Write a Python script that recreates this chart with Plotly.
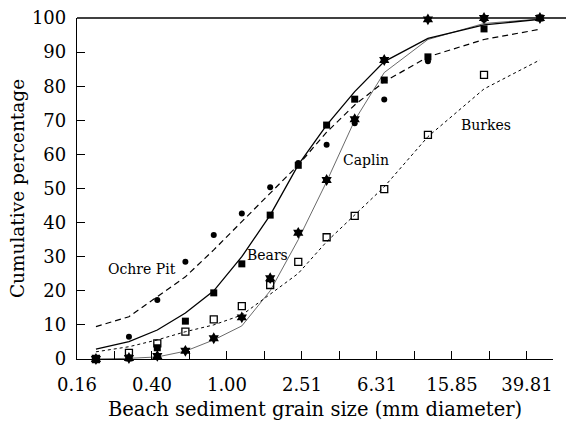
import plotly.graph_objects as go

# grain sizes (mm) of sieve classes
sizes = [0.2, 0.3, 0.425, 0.6, 0.85, 1.2, 1.7, 2.4, 3.4, 4.8, 6.9, 11.8, 23.5, 46.7]

# observed cumulative percentages
ochre_obs = [0, 6.5, 17.3, 28.5, 36.4, 42.7, 50.4, 57.5, 62.8, 69.1, 76.1, 87.3, 99.5, 100]
bears_obs = [0, 0.3, 3.3, 11.1, 19.4, 27.9, 42.2, 56.8, 68.6, 76.2, 81.8, 88.6, 96.8, 100]
caplin_obs = [0, 0.3, 0.9, 2.4, 6.1, 12.2, 23.7, 37.0, 52.5, 70.3, 87.7, 99.6, 100, 100]
burkes_obs = [0, 1.8, 4.6, 8.0, 11.6, 15.5, 21.7, 28.5, 35.7, 42.0, 49.8, 65.7, 83.3, None]

# fitted curves
ochre_fit = [9.5, 12.4, 18.3, 24.1, 32.0, 40.3, 48.6, 56.9, 66.5, 74.5, 81.3, 88.6, 93.7, 96.7]
bears_fit = [2.9, 5.1, 8.5, 13.5, 20.0, 30.0, 42.2, 56.9, 68.6, 78.4, 87.2, 94.0, 98.0, 99.6]
caplin_fit = [0, 0.2, 0.6, 2.3, 5.6, 9.7, 20.0, 35.0, 52.0, 70.0, 84.0, 93.7, 98.4, 99.7]
burkes_fit = [2.1, 3.6, 5.6, 8.0, 10.0, 12.9, 19.0, 25.1, 34.4, 42.2, 50.5, 65.2, 79.2, 87.7]

# axis ticks
x_tickvals = [0.1585, 0.2512, 0.3981, 0.631, 1.0, 1.585, 2.512, 3.981, 6.31, 10.0, 15.85, 25.12, 39.81]
x_ticktext = ["0.16", "", "0.40", "", "1.00", "", "2.51", "", "6.31", "", "15.85", "", "39.81"]
y_tickvals = [0, 10, 20, 30, 40, 50, 60, 70, 80, 90, 100]

# curve labels: (text, log10 x, y)
labels = [("Ochre Pit", -0.453, 26.4), ("Bears", 0.216, 30.5),
          ("Caplin", 0.741, 58.4), ("Burkes", 1.384, 68.6)]

FONT = "DejaVu Serif"
fig = go.Figure()

fig.add_trace(go.Scatter(x=sizes, y=burkes_fit, mode="lines",
                         line=dict(color="black", width=1, dash="dot")))
fig.add_trace(go.Scatter(x=sizes, y=caplin_fit, mode="lines",
                         line=dict(color="#444444", width=0.8)))
fig.add_trace(go.Scatter(x=sizes, y=ochre_fit, mode="lines",
                         line=dict(color="black", width=1.2, dash="6px,4px")))
fig.add_trace(go.Scatter(x=sizes, y=bears_fit, mode="lines",
                         line=dict(color="black", width=1.3)))

fig.add_trace(go.Scatter(x=sizes, y=burkes_obs, mode="markers", cliponaxis=False,
                         marker=dict(symbol="square-open", size=7, color="black",
                                     line=dict(width=1.3, color="black"))))
fig.add_trace(go.Scatter(x=sizes, y=ochre_obs, mode="markers", cliponaxis=False,
                         marker=dict(symbol="circle", size=6, color="black")))
fig.add_trace(go.Scatter(x=sizes, y=bears_obs, mode="markers", cliponaxis=False,
                         marker=dict(symbol="square", size=7, color="black")))
fig.add_trace(go.Scatter(x=sizes, y=caplin_obs, mode="markers", cliponaxis=False,
                         marker=dict(symbol="hexagram", size=9, color="black")))

for text, lx, ly in labels:
    fig.add_annotation(x=lx, y=ly, text=text, showarrow=False,
                       font=dict(family=FONT, size=14, color="black"))

fig.add_shape(type="line", xref="paper", yref="paper", x0=0, x1=1.03, y0=1, y1=1,
              line=dict(color="black", width=1.3))

fig.update_layout(
    width=566, height=421,
    margin=dict(l=77, r=13, t=18, b=62),
    paper_bgcolor="white", plot_bgcolor="white",
    showlegend=False,
    font=dict(family=FONT, color="black"),
    xaxis=dict(type="log", range=[-0.8, 1.739], tickvals=x_tickvals, ticktext=x_ticktext,
               ticks="inside", ticklen=8, tickcolor="black", showline=True,
               linecolor="black", linewidth=1.3, showgrid=False, zeroline=False,
               automargin=False,
               tickfont=dict(family=FONT, size=18), ticklabelstandoff=9,
               title=dict(text="Beach sediment grain size (mm diameter)",
                          font=dict(family=FONT, size=19.5), standoff=12)),
    yaxis=dict(range=[0, 100], tickvals=y_tickvals, ticks="inside", ticklen=8,
               tickcolor="black", showline=True, linecolor="black", linewidth=1.3,
               showgrid=False, zeroline=False, automargin=False,
               tickfont=dict(family=FONT, size=18), ticklabelstandoff=6,
               title=dict(text="Cumulative percentage",
                          font=dict(family=FONT, size=18.5), standoff=2)),
)

fig.write_html("out.html")
